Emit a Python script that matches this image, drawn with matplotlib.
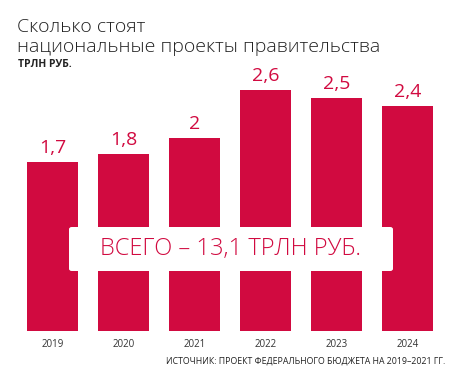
import matplotlib
matplotlib.use("Agg")
import matplotlib.pyplot as plt
from matplotlib.patches import FancyBboxPatch

years = ["2019", "2020", "2021", "2022", "2023", "2024"]
values = [1.7, 1.8, 2.0, 2.6, 2.5, 2.4]
value_labels = ["1,7", "1,8", "2", "2,6", "2,5", "2,4"]
title_lines = ["Сколько стоят", "национальные проекты правительства"]
unit_text = "ТРЛН РУБ."
total_text = "ВСЕГО – 13,1 ТРЛН РУБ."
source_text = "ИСТОЧНИК: ПРОЕКТ ФЕДЕРАЛЬНОГО БЮДЖЕТА НА 2019–2021 ГГ."

RED = "#d10a40"
BASE = -0.41
plt.rcParams['font.family'] = ['Open Sans', 'DejaVu Sans']

fig = plt.figure(figsize=(4.6, 3.8), dpi=100)
ax = fig.add_axes([27/460, 49/380, 406/460, 251/380])
x = list(range(len(years)))
ax.bar(x, [v - BASE for v in values], bottom=BASE, width=0.72, color=RED, edgecolor='none')
ax.set_xlim(-0.36, len(years) - 1 + 0.36)
ax.set_ylim(BASE, BASE + 251/80)
for xi, v, lab in zip(x, values, value_labels):
    ax.annotate(lab, (xi, v), xytext=(0, 4), textcoords='offset points',
                ha='center', va='bottom', color=RED, fontsize=14)
ax.set_xticks(x)
ax.set_xticklabels(years, fontsize=7, color='#333333')
ax.tick_params(axis='x', length=0, pad=6)
ax.set_yticks([])
for s in ax.spines.values():
    s.set_visible(False)

box = FancyBboxPatch((69/460, (380-271)/380), (393-69)/460, 44/380,
                     boxstyle="round,pad=0,rounding_size=0.006",
                     transform=fig.transFigure, facecolor='white', edgecolor='none', zorder=5)
fig.patches.append(box)
fig.text(231/460, (380-249)/380, total_text, ha='center', va='center',
         color=RED, fontsize=17, fontweight='light', zorder=6)

fig.text(17/460, (380-32)/380, title_lines[0], ha='left', va='baseline',
         fontsize=14, fontweight='light', color='#222222')
fig.text(17/460, (380-52)/380, title_lines[1], ha='left', va='baseline',
         fontsize=14, fontweight='light', color='#222222')
fig.text(18/460, (380-67)/380, unit_text, ha='left', va='baseline',
         fontsize=7.5, fontweight='bold', color='#222222')
fig.text(445/460, (380-364)/380, source_text, ha='right', va='baseline',
         fontsize=6.3, color='#222222')

fig.savefig("out.png", dpi=100)
